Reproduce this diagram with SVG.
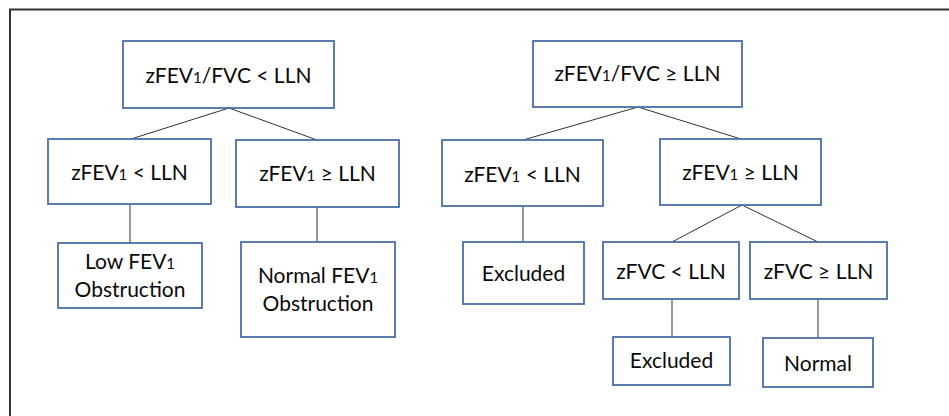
<svg xmlns="http://www.w3.org/2000/svg" width="949" height="416" viewBox="0 0 949 416">
<style>
.box{fill:#fff;stroke:#4a6ea9;stroke-width:1.8}
.t{font-family:Lato,"Liberation Sans",sans-serif;font-size:21px;fill:#0a0a0a;text-anchor:middle}
.s{font-size:15px}
.c{stroke:#333;stroke-width:1;fill:none}
</style>
<rect x="0" y="0" width="949" height="416" fill="#fff"/>
<path d="M10 416 V9.5 H949" fill="none" stroke="#333" stroke-width="2"/>
<g id="connectors">
<line class="c" x1="229" y1="108" x2="131" y2="139"/>
<line class="c" x1="229" y1="108" x2="317" y2="140"/>
<line class="c" x1="130" y1="204" x2="130" y2="243"/>
<line class="c" x1="317" y1="207" x2="317" y2="242"/>
<line class="c" x1="638" y1="107" x2="523" y2="140"/>
<line class="c" x1="638" y1="107" x2="741" y2="139"/>
<line class="c" x1="523" y1="206" x2="523" y2="242"/>
<line class="c" x1="742" y1="205" x2="672" y2="242"/>
<line class="c" x1="742" y1="205" x2="818" y2="242"/>
<line class="c" x1="672" y1="299" x2="672" y2="337"/>
<line class="c" x1="818" y1="299" x2="818" y2="338"/>
</g>
<g id="n1"><rect class="box" x="123" y="41" width="211" height="67"/><text class="t" x="228.5" y="83">zFEV<tspan class="s">1</tspan>/FVC &lt; LLN</text></g>
<g id="n2"><rect class="box" x="48" y="139" width="163" height="65"/><text class="t" x="129.5" y="180">zFEV<tspan class="s">1</tspan> &lt; LLN</text></g>
<g id="n3"><rect class="box" x="236" y="140" width="163" height="67"/><text class="t" x="317.5" y="181">zFEV<tspan class="s">1</tspan> ≥ LLN</text></g>
<g id="n4"><rect class="box" x="58" y="243" width="144" height="65"/><text class="t" x="130" y="269">Low FEV<tspan class="s">1</tspan></text><text class="t" x="130" y="297">Obstruction</text></g>
<g id="n5"><rect class="box" x="241" y="242" width="154" height="95"/><text class="t" x="318" y="283">Normal FEV<tspan class="s">1</tspan></text><text class="t" x="318" y="311">Obstruction</text></g>
<g id="n6"><rect class="box" x="533" y="41" width="209" height="66"/><text class="t" x="637.5" y="81">zFEV<tspan class="s">1</tspan>/FVC ≥ LLN</text></g>
<g id="n7"><rect class="box" x="442" y="140" width="161" height="66"/><text class="t" x="522.5" y="182">zFEV<tspan class="s">1</tspan> &lt; LLN</text></g>
<g id="n8"><rect class="box" x="660" y="139" width="161" height="66"/><text class="t" x="740.5" y="180">zFEV<tspan class="s">1</tspan> ≥ LLN</text></g>
<g id="n9"><rect class="box" x="463" y="242" width="121" height="62"/><text class="t" x="523.5" y="281">Excluded</text></g>
<g id="n10"><rect class="box" x="603" y="242" width="136" height="57"/><text class="t" x="671" y="279">zFVC &lt; LLN</text></g>
<g id="n11"><rect class="box" x="750" y="242" width="137" height="57"/><text class="t" x="818.5" y="279">zFVC ≥ LLN</text></g>
<g id="n12"><rect class="box" x="613" y="337" width="117" height="48"/><text class="t" x="671.5" y="368">Excluded</text></g>
<g id="n13"><rect class="box" x="763" y="338" width="110" height="49"/><text class="t" x="818" y="371">Normal</text></g>
</svg>
